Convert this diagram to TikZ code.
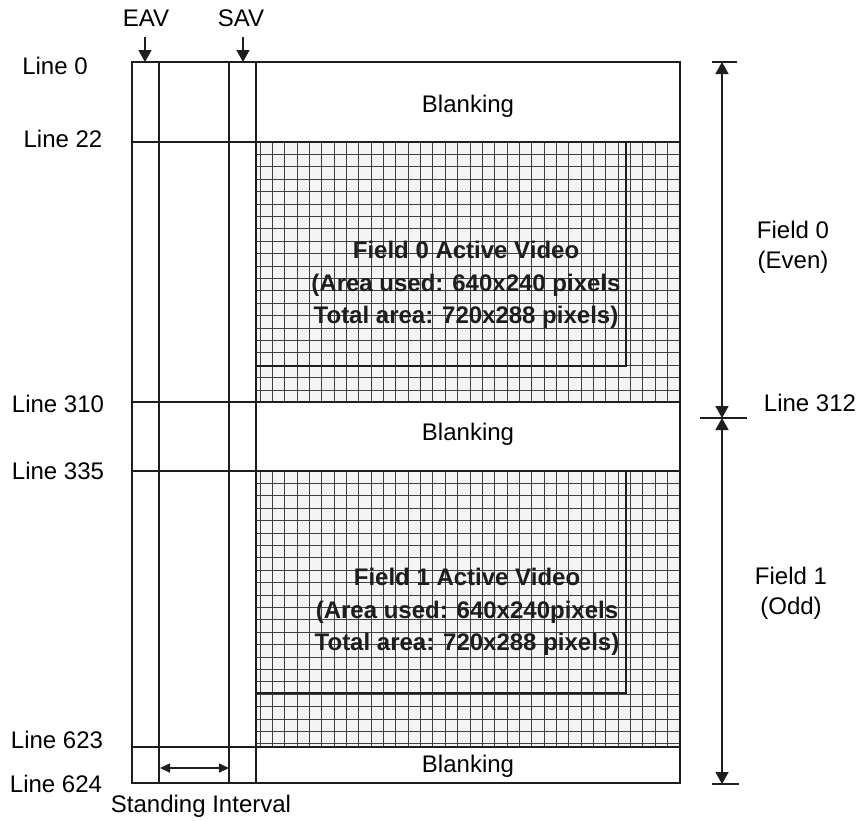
\documentclass[tikz,border=0pt]{standalone}
\usepackage{fontspec}
\setmainfont{Liberation Sans}
\usepackage{tikz}
\usetikzlibrary{arrows.meta,positioning,calc}
\usepackage{xcolor}
\definecolor{FrameInk}{HTML}{1E1E1E}
\definecolor{GridInk}{HTML}{404040}
\definecolor{GridBg}{HTML}{F4F4F4}

\begin{document}
\begin{tikzpicture}[x=0.5pt, y=-0.5pt,
    lbl/.style={font=\fontsize{12pt}{14pt}\selectfont, inner sep=1pt},
    blank/.style={font=\fontsize{12pt}{14pt}\selectfont, inner sep=1pt},
    fieldtxt/.style={font=\fontsize{12pt}{16.2pt}\selectfont\bfseries, align=center, inner sep=1pt, text=FrameInk},
    sidetxt/.style={font=\fontsize{12pt}{15pt}\selectfont, align=center, inner sep=1pt},
    frame/.style={draw=FrameInk, line width=0.9pt},
    gridline/.style={draw=GridInk, line width=0.45pt},
    usedbox/.style={draw=FrameInk, line width=1.3pt},
    arr/.style={-{Triangle[length=6pt, width=6.5pt]}, draw=FrameInk, line width=0.8pt},
    dimarr/.style={{Triangle[length=6pt, width=6.5pt]}-{Triangle[length=6pt, width=6.5pt]}, draw=FrameInk, line width=0.8pt},
    intarr/.style={{Triangle[length=5pt, width=4.5pt]}-{Triangle[length=5pt, width=4.5pt]}, draw=FrameInk, line width=0.8pt}
  ]
    \useasboundingbox (0,0) rectangle (861,820);

    % active video grids
    \fill[GridBg] (256,142) rectangle (680,402);
    \fill[GridBg] (256,471) rectangle (680,747);
    \foreach \k in {0,...,34} {
      \draw[gridline] ({260+\k*12.35},142) -- ({260+\k*12.35},402);
      \draw[gridline] ({260+\k*12.35},471) -- ({260+\k*12.35},747);
    }
    \foreach \k in {1,...,20}
      \draw[gridline] (256,{142+\k*12.4}) -- (680,{142+\k*12.4});
    \foreach \k in {1,...,22}
      \draw[gridline] (256,{471+\k*12.4}) -- (680,{471+\k*12.4});
    \draw[usedbox] (256,142) rectangle (626,366);
    \draw[usedbox] (256,471) rectangle (626,693);

    % frame
    \draw[frame] (132,62) rectangle (680,783);
    \foreach \xv in {159,229,256}
      \draw[frame] (\xv,62) -- (\xv,783);
    \foreach \yv in {142,402,471,747}
      \draw[frame] (132,\yv) -- (680,\yv);

    \node[blank] (blank0) at (468,106) {Blanking};
    \node[blank] (blank1) at (468,434) {Blanking};
    \node[blank] (blank2) at (468,766) {Blanking};

    \node[fieldtxt] (act0) at (466,285) {Field 0 Active Video\\(Area used: 640x240 pixels\\Total area: 720x288 pixels)};
    \node[fieldtxt] (act1) at (467,612) {Field 1 Active Video\\(Area used: 640x240pixels\\Total area: 720x288 pixels)};

    % line numbers
    \node[lbl] (l0) at (55,66) {Line 0};
    \node[lbl] (l22) at (63,139) {Line 22};
    \node[lbl] (l310) at (58,404) {Line 310};
    \node[lbl] (l335) at (58,471) {Line 335};
    \node[lbl] (l623) at (57,740) {Line 623};
    \node[lbl] (l624) at (56,784) {Line 624};
    \node[lbl] (l312) at (810,403) {Line 312};

    % EAV / SAV markers
    \node[lbl] (eav) at (146,18) {EAV};
    \node[lbl] (sav) at (241,18) {SAV};
    \coordinate (eavpt) at (145,62);
    \coordinate (savpt) at (243,62);
    \draw[arr, shorten <=4pt] (eav.south -| eavpt) -- (eavpt);
    \draw[arr, shorten <=4pt] (sav.south -| savpt) -- (savpt);

    % standing interval
    \coordinate (si0) at (160,768);
    \coordinate (si1) at (229,768);
    \draw[intarr] (si0) -- (si1);
    \node[lbl] (sint) at (201,806) {Standing Interval};

    % field extents
    \coordinate (ftop) at (722,62);
    \coordinate (fmid) at (722,418);
    \coordinate (fbot) at (722,784);
    \draw[dimarr] (ftop) -- (fmid);
    \draw[dimarr] (fmid) -- (fbot);
    \draw[frame] ([xshift=-5pt]ftop) -- ([xshift=7.5pt]ftop);
    \draw[frame] ([xshift=-11pt]fmid) -- ([xshift=12.5pt]fmid);
    \draw[frame] ([xshift=-5pt]fbot) -- ([xshift=8.5pt]fbot);
    \node[sidetxt] (f0) at (793,247) {Field 0\\(Even)};
    \node[sidetxt] (f1) at (791,593) {Field 1\\(Odd)};
  \end{tikzpicture}
\end{document}
